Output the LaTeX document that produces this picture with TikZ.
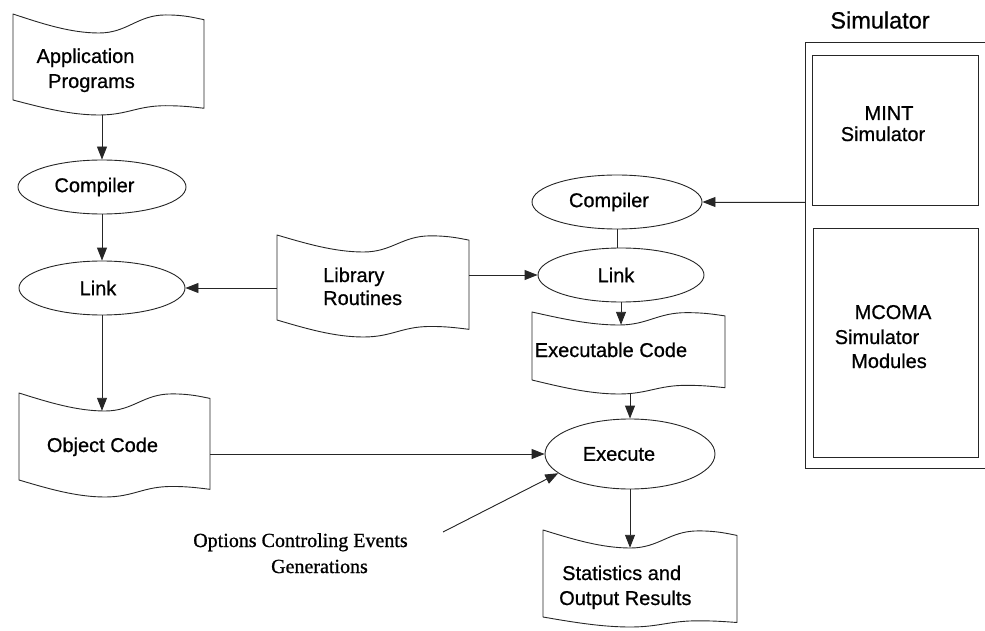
\documentclass[tikz,border=0pt]{standalone}
\usepackage{fontspec}
\setmainfont{Liberation Sans}[FakeBold=0.7]
\newfontfamily\optfont{Liberation Serif}[FakeBold=0.9]
\usetikzlibrary{shapes.geometric,arrows.meta}

\newcommand\lbl{\fontsize{20}{24}\selectfont}

\tikzset{
  ink/.style={draw=black!85, line width=0.9pt},
  docline/.style={ink, line join=round},
  docnode/.style={rectangle, inner sep=0pt},
  proc/.style={ellipse, ink, inner sep=0pt, font=\lbl},
  box/.style={rectangle, ink, inner sep=0pt},
  arr/.style={ink, -{Triangle[length=13pt,width=10pt]}, fill=black!80},
  txt/.style={font=\lbl, inner sep=0pt, anchor=base},
  txtl/.style={font=\lbl, inner sep=0pt, anchor=base west},
  opttxt/.style={font=\optfont\fontsize{20}{24}\selectfont, inner sep=0pt, anchor=base},
}

% document symbol: wavy top and bottom edges
% #1 name, #2 left, #3 right, #4 top, #5 top dip, #6 bottom, #7 bottom dip
\newcommand\docshape[7]{%
  \pgfmathsetmacro\dw{#3-#2}%
  \pgfmathsetmacro\dcx{(#2+#3)/2}%
  \pgfmathsetmacro\dcy{(#4+#5+#6+#7)/2}%
  \pgfmathsetmacro\dh{(#6+#7)-(#4+#5)}%
  \draw[docline]
    (#2,#4)
    .. controls ({#2+0.15*\dw},{#4+0.5*#5}) and ({#2+0.3*\dw},{#4+#5}) .. ({#2+0.45*\dw},{#4+#5})
    .. controls ({#2+0.6*\dw},{#4+#5}) and ({#2+0.65*\dw},{#4+0.05*#5}) .. ({#2+0.8*\dw},{#4+0.05*#5})
    .. controls ({#2+0.9*\dw},{#4+0.05*#5}) and ({#2+0.95*\dw},{#4+0.2*#5}) .. (#3,{#4+0.3*#5})
    -- (#3,{#6+0.55*#7})
    .. controls ({#2+0.93*\dw},{#6+0.45*#7}) and ({#2+0.88*\dw},{#6+0.38*#7}) .. ({#2+0.8*\dw},{#6+0.38*#7})
    .. controls ({#2+0.65*\dw},{#6+0.38*#7}) and ({#2+0.6*\dw},{#6+#7}) .. ({#2+0.45*\dw},{#6+#7})
    .. controls ({#2+0.3*\dw},{#6+#7}) and ({#2+0.15*\dw},{#6+0.5*#7}) .. (#2,#6)
    -- cycle;
  \node[docnode, minimum width=\dw pt, minimum height=\dh pt] (#1) at (\dcx,\dcy) {};
}

\begin{document}
\begin{tikzpicture}[x=1pt,y=-1pt]
\useasboundingbox (0,0) rectangle (985,631);

% documents
\docshape{app}{13}{204}{14}{19}{100}{15}
\docshape{lib}{277}{469}{235}{17}{320}{17}
\docshape{obj}{19}{210}{393}{18}{480}{17}
\docshape{exc}{532}{725}{312}{13}{380}{14}
\docshape{stat}{543}{737}{530}{18}{617}{10}

\node[txt] (appA) at (85.5,63) {Application};
\node[txt] (appB) at (91.5,88) {Programs};
\node[txtl] (libA) at (323,282) {Library};
\node[txtl] (libB) at (323,305) {Routines};
\node[txt] (objT) at (102.5,452) {Object Code};
\node[txt] (excT) at (611,357) {Executable Code};
\node[txtl] (statA) at (562,580) {Statistics and};
\node[txtl] (statB) at (559,605) {Output Results};

% processes
\node[proc, minimum width=168pt, minimum height=54pt] (cmpL) at (102,187) {\kern-15pt Compiler};
\node[proc, minimum width=166pt, minimum height=54pt] (lnkL) at (102,288) {\kern-8pt Link};
\node[proc, minimum width=170pt, minimum height=54pt] (cmpR) at (617,202) {\kern-16pt Compiler};
\node[proc, minimum width=166pt, minimum height=54pt] (lnkR) at (621,275) {\kern-10pt Link};
\node[proc, minimum width=170pt, minimum height=70pt] (exe) at (630,454) {\kern-22pt Execute};

% simulator block
\node[font=\fontsize{23.5}{28}\selectfont, inner sep=0pt, anchor=base] (simT) at (880,28.5) {Simulator};
\node[docnode, minimum width=179pt, minimum height=425pt] (simbox) at (895.5,255.5) {};
\draw[ink] (simbox.north east) -- (simbox.north west) -- (simbox.south west) -- (simbox.south east);
\node[box, minimum width=166pt, minimum height=150pt] (mint) at (895,130) {};
\node[box, minimum width=165pt, minimum height=229pt] (mcoma) at (895.5,342.5) {};
\node[txt] (mintA) at (889,120) {MINT};
\node[txt] (mintB) at (883,141) {Simulator};
\node[txt] (mcomaA) at (893,319) {MCOMA};
\node[txt] (mcomaB) at (877,344) {Simulator};
\node[txt] (mcomaC) at (889,368) {Modules};

% options label
\node[opttxt] (optA) at (300.5,547) {Options Controling Events};
\node[opttxt] (optB) at (319.5,573) {Generations};
\coordinate (optTail) at (443,532);

% connectors
\draw[arr] (app.south -| cmpL.north) -- (cmpL.north);
\draw[arr] (cmpL.south) -- (lnkL.north);
\draw[arr] (lnkL.south) -- (lnkL.south |- obj.north);
\draw[arr] (lib.west |- lnkL.east) -- (lnkL.east);
\draw[arr] (lib.east |- lnkR.west) -- (lnkR.west);
\draw[arr] (simbox.west |- cmpR.east) -- (cmpR.east);
\draw[ink] (cmpR.south) -- (cmpR.south |- lnkR.north);
\draw[arr] (lnkR.south) -- (lnkR.south |- exc.north);
\draw[arr] (exe.north |- exc.south) -- (exe.north);
\draw[arr] (obj.east |- exe.west) -- (exe.west);
\draw[arr] (optTail) -- (exe.195);
\draw[arr] (exe.south) -- (exe.south |- stat.north);
\end{tikzpicture}
\end{document}
